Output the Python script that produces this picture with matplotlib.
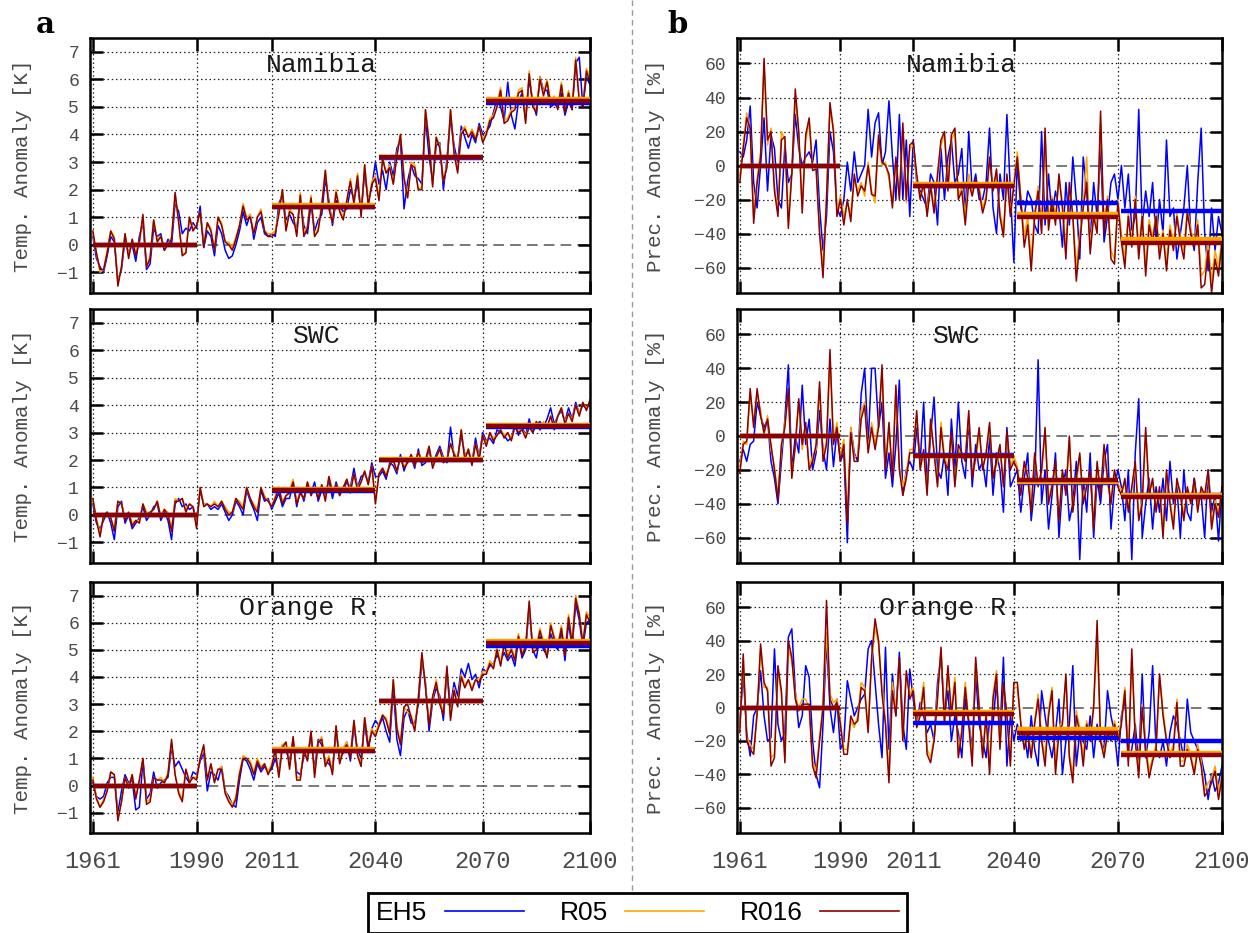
import numpy as np
import matplotlib.pyplot as plt
from matplotlib.lines import Line2D

# ---- data ----
years = np.arange(1961, 2101)
xticks = [1961, 1990, 2011, 2040, 2070, 2100]
periods = [(1961, 1990), (2011, 2040), (2041, 2070), (2071, 2100)]
models = ['EH5', 'R05', 'R016']
colors = ['#0000ff', '#ffa500', '#8b0000']
regions = ['Namibia', 'SWC', 'Orange R.']

# temperature anomaly [K], Namibia
t_nam_eh5 = [0.3,-0.5,-0.8,-1.0,-0.4,0.3,0.1,-1.3,-0.9,0.2,
             -0.3,0.0,-0.6,0.3,0.8,-0.9,-0.7,0.6,0.3,0.4,
             -0.2,0.2,0.0,1.5,1.2,0.4,0.6,0.5,0.8,0.6,
             1.4,-0.1,0.5,0.3,-0.4,0.7,0.4,-0.2,-0.5,-0.4,
             0.0,0.5,1.2,0.7,1.1,0.2,0.8,1.0,0.4,0.3,
             0.4,0.3,1.5,1.8,0.9,1.1,0.8,0.6,1.6,0.7,
             0.4,1.5,0.5,0.9,1.1,2.4,1.6,0.7,1.6,1.4,
             1.2,1.3,2.0,1.7,2.2,1.2,2.6,1.6,2.1,3.0,
             2.2,2.7,2.0,3.0,2.5,3.5,3.8,1.3,2.3,2.9,
             2.5,2.4,2.2,4.6,3.2,2.3,3.6,3.7,2.0,3.1,
             4.6,3.6,3.0,4.3,3.9,3.5,4.0,3.7,4.4,4.0,
             4.1,4.3,4.8,5.3,5.0,4.5,5.9,4.7,4.2,5.2,
             5.5,4.6,6.0,5.2,4.7,6.1,5.6,5.6,5.0,5.1,
             5.0,5.5,4.7,5.2,4.9,6.6,6.8,5.0,6.1,5.8]
t_nam_r05 = [0.4,-0.3,-1.0,-0.9,-0.2,0.5,0.3,-1.4,-0.8,0.4,
             -0.4,0.2,-0.3,0.1,1.0,-0.8,-0.4,0.9,0.2,0.3,
             -0.1,0.0,0.3,1.8,0.8,-0.3,-0.3,1.0,0.6,0.7,
             1.2,0.0,0.8,0.6,-0.2,1.0,0.8,0.1,0.1,-0.1,
             0.3,0.7,1.5,1.0,1.1,0.4,1.0,1.3,0.5,0.4,
             0.4,0.5,1.2,2.0,0.6,1.3,1.1,0.4,1.9,0.4,
             0.7,1.8,0.3,0.6,1.5,2.7,1.4,0.8,2.0,1.3,
             1.0,1.6,2.4,1.5,2.6,1.1,2.9,1.5,2.3,2.5,
             1.7,3.2,2.6,2.9,2.2,3.3,4.0,2.5,1.7,3.0,
             2.9,2.0,2.1,4.9,3.8,2.2,3.9,3.6,2.3,2.9,
             4.9,3.4,2.7,4.1,4.3,3.9,4.2,3.9,4.3,3.8,
             4.1,4.6,4.7,5.1,5.7,4.5,4.6,4.9,5.0,5.6,
             5.7,4.5,6.3,5.1,4.9,6.1,5.5,6.0,5.2,5.4,
             5.0,5.9,4.9,5.6,5.0,6.8,5.3,5.1,6.4,6.1]
t_nam_r016 = [0.5,-0.3,-0.9,-0.9,-0.3,0.5,0.2,-1.5,-0.8,0.4,
              -0.5,0.2,-0.4,0.1,1.1,-0.8,-0.5,0.9,0.1,0.3,
              -0.2,0.0,0.2,1.9,0.8,-0.4,-0.3,1.0,0.5,0.7,
              1.2,-0.1,0.8,0.5,-0.2,1.0,0.7,0.1,0.0,-0.2,
              0.2,0.7,1.4,0.9,1.0,0.4,1.0,1.2,0.5,0.3,
              0.3,0.4,1.1,2.0,0.5,1.2,1.1,0.3,1.8,0.3,
              0.6,1.7,0.3,0.5,1.4,2.7,1.3,0.8,1.9,1.2,
              0.9,1.6,2.3,1.5,2.5,1.0,2.9,1.4,2.2,2.4,
              1.6,3.1,2.6,2.8,2.2,3.2,4.0,2.4,1.7,2.9,
              2.8,2.0,2.0,4.9,3.7,2.1,3.9,3.5,2.3,2.8,
              4.9,3.3,2.6,4.0,4.2,3.9,4.1,3.8,4.3,3.7,
              4.0,4.5,4.6,5.0,5.6,4.4,4.5,4.8,4.9,5.5,
              5.6,4.4,6.2,5.0,4.8,6.0,5.4,5.9,5.1,5.3,
              4.9,5.8,4.8,5.5,4.9,6.7,5.2,5.0,6.3,5.9]

# temperature anomaly [K], SWC
t_swc_eh5 = [0.4,-0.3,-0.5,-0.2,0.1,-0.3,-0.9,0.3,0.5,-0.3,
             0.0,-0.5,-0.3,-0.1,0.3,-0.2,0.0,0.3,0.4,-0.2,
             0.1,-0.2,-0.9,0.4,0.6,0.3,0.4,0.2,0.3,-0.2,
             0.9,0.4,0.4,0.2,0.3,0.2,0.4,0.1,-0.2,0.0,
             0.5,0.3,0.0,0.9,0.5,0.2,-0.2,0.9,0.5,0.6,
             0.2,0.5,0.8,0.3,0.6,0.6,1.2,0.3,0.9,0.5,
             1.1,0.8,1.2,0.5,0.9,0.7,1.3,0.6,1.2,0.8,
             0.9,1.2,1.0,1.7,1.0,1.4,1.5,1.2,1.9,1.4,
             1.4,1.6,1.3,1.9,1.8,1.5,2.2,1.6,2.0,2.1,
             1.7,2.4,1.8,1.9,2.4,1.8,2.2,2.5,2.1,1.9,
             3.2,2.1,2.1,2.9,2.2,2.3,1.9,2.8,2.1,3.0,
             2.7,2.8,2.6,3.1,3.0,2.9,2.7,2.8,3.3,2.9,
             3.2,2.9,3.5,3.0,3.3,3.4,3.2,3.5,3.9,3.3,
             3.6,3.8,3.4,3.9,3.5,4.1,3.7,4.0,3.9,4.0]
t_swc_r05 = [0.5,-0.1,-0.7,0.0,0.1,-0.1,-0.5,0.5,0.4,-0.1,
             0.1,-0.3,-0.2,-0.2,0.4,0.1,0.1,0.2,0.5,0.0,
             0.2,0.1,-0.5,0.6,0.5,0.6,0.2,0.4,0.3,-0.4,
             1.0,0.4,0.4,0.3,0.5,0.3,0.5,0.3,0.1,0.1,
             0.6,0.5,0.3,1.0,0.6,0.4,0.2,1.0,0.7,0.5,
             0.3,0.7,1.0,0.5,0.7,0.9,1.3,0.5,0.8,0.6,
             1.2,0.8,1.0,0.7,1.1,0.6,1.4,0.9,1.1,0.8,
             1.0,1.3,0.9,1.5,1.0,1.2,1.6,1.1,1.8,0.5,
             1.5,1.7,1.5,1.8,2.0,1.6,2.1,1.8,1.9,2.2,
             1.8,2.3,2.0,2.0,2.5,1.8,2.1,2.4,2.0,2.0,
             2.6,2.3,2.0,3.1,2.1,2.4,1.9,2.6,2.1,2.9,
             2.6,3.0,2.8,2.9,3.1,2.9,3.0,2.8,3.2,3.1,
             3.1,2.9,3.2,3.1,3.4,3.1,3.4,3.2,3.6,3.2,
             3.6,3.9,3.4,3.7,3.5,4.0,3.7,4.1,3.9,4.1]
t_swc_r016 = [0.6,-0.2,-0.8,0.0,0.1,-0.1,-0.6,0.5,0.4,-0.2,
              0.1,-0.4,-0.2,-0.3,0.4,0.0,0.1,0.2,0.5,-0.1,
              0.2,0.0,-0.6,0.5,0.5,0.6,0.1,0.4,0.3,-0.5,
              1.0,0.3,0.4,0.3,0.4,0.3,0.5,0.2,0.0,0.1,
              0.6,0.4,0.2,1.0,0.6,0.3,0.1,1.0,0.6,0.5,
              0.3,0.6,1.0,0.4,0.7,0.8,1.2,0.4,0.8,0.6,
              1.2,0.7,1.0,0.6,1.1,0.5,1.4,0.8,1.1,0.7,
              1.0,1.3,0.8,1.5,0.9,1.2,1.6,1.1,1.8,0.4,
              1.5,1.7,1.4,1.8,2.0,1.6,2.1,1.7,1.9,2.2,
              1.8,2.3,1.9,2.0,2.5,1.7,2.1,2.4,1.9,2.0,
              2.6,2.2,2.0,3.1,2.0,2.4,1.8,2.6,2.0,2.9,
              2.5,3.0,2.7,2.9,3.1,2.8,3.0,2.7,3.2,3.0,
              3.1,2.8,3.2,3.0,3.4,3.1,3.3,3.2,3.6,3.1,
              3.6,3.9,3.3,3.7,3.4,4.0,3.6,4.1,3.8,4.2]

# temperature anomaly [K], Orange R.
t_ora_eh5 = [0.1,-0.4,-0.5,-0.4,0.1,0.3,0.3,-1.0,-0.2,0.4,
             0.1,0.2,-0.9,-0.8,0.9,-0.5,-0.3,0.5,-0.1,0.1,
             0.2,0.3,1.4,0.7,0.9,0.6,0.3,0.1,0.5,0.4,
             0.9,1.2,-0.2,0.5,0.4,0.2,0.7,-0.2,-0.4,-0.7,
             -0.8,0.2,1.0,0.9,0.6,0.2,0.8,0.5,0.7,0.5,
             0.6,1.0,0.5,1.5,1.3,0.9,1.7,0.5,0.4,1.1,
             1.1,1.8,0.6,1.7,1.5,0.9,0.8,0.6,2.0,1.0,
             1.2,1.6,0.9,2.2,1.3,1.0,2.3,1.3,2.1,2.4,
             2.2,2.5,2.0,1.6,3.6,1.7,1.1,2.5,2.8,2.3,
             2.3,3.0,4.6,3.8,2.0,3.1,3.6,3.3,2.4,4.2,
             2.9,3.8,3.3,4.3,4.0,4.5,3.9,4.1,3.6,4.3,
             4.2,4.4,4.5,4.8,4.6,4.9,4.6,4.8,4.4,5.4,
             4.7,5.0,6.6,5.0,4.7,5.5,5.0,4.8,5.6,5.2,
             5.0,5.7,4.6,6.0,5.1,6.7,6.1,5.1,6.0,6.1]
t_ora_r05 = [0.3,-0.4,-0.8,-0.5,-0.2,0.5,0.4,-1.2,-0.6,0.3,
             0.0,0.4,-0.4,0.2,1.0,-0.6,-0.5,0.3,0.2,0.3,
             0.1,0.5,1.6,0.4,-0.2,-0.5,0.6,0.2,0.3,0.3,
             1.0,1.4,0.2,0.8,0.2,0.6,0.7,-0.2,-0.5,-0.7,
             -0.4,0.5,1.1,1.0,0.9,0.5,1.0,0.7,0.8,0.5,
             0.8,1.3,0.4,1.5,1.6,0.7,1.8,0.3,0.3,1.4,
             1.0,2.0,0.4,1.6,1.8,0.8,1.1,0.5,2.2,0.9,
             1.4,1.6,1.1,2.4,1.2,0.8,2.5,1.5,2.1,1.9,
             2.3,2.6,2.5,2.0,3.9,2.2,1.6,2.9,2.7,2.6,
             2.1,3.3,4.8,3.7,2.3,3.2,3.9,3.1,2.7,4.3,
             2.5,3.6,3.0,4.1,3.7,3.9,3.6,3.9,3.9,4.2,
             4.2,4.6,4.4,5.1,4.5,5.3,4.8,5.1,4.7,5.6,
             4.9,5.2,6.7,5.0,5.1,5.8,5.3,4.8,6.0,5.5,
             5.2,5.9,4.9,6.3,5.3,7.0,6.4,5.3,6.4,6.2]
t_ora_r016 = [0.2,-0.5,-0.8,-0.6,-0.2,0.5,0.4,-1.3,-0.6,0.3,
              -0.1,0.4,-0.5,0.2,1.0,-0.7,-0.6,0.3,0.2,0.2,
              0.1,0.4,1.7,0.4,-0.3,-0.6,0.6,0.1,0.3,0.2,
              1.0,1.5,0.2,0.8,0.1,0.6,0.6,-0.3,-0.6,-0.8,
              -0.5,0.4,1.0,1.0,0.8,0.4,0.9,0.6,0.8,0.4,
              0.7,1.3,0.3,1.4,1.6,0.6,1.8,0.2,0.2,1.3,
              0.9,2.0,0.3,1.6,1.7,0.7,1.0,0.4,2.2,0.8,
              1.3,1.5,1.0,2.4,1.1,0.7,2.5,1.4,2.0,1.8,
              2.2,2.6,2.4,1.9,3.9,2.1,1.5,2.9,3.0,2.5,
              2.0,3.2,4.9,3.6,2.2,3.3,3.8,3.0,2.6,4.4,
              2.4,3.5,2.9,4.0,3.6,3.9,3.5,3.9,3.8,4.1,
              4.1,4.5,4.3,5.0,4.4,5.2,4.7,5.0,4.6,5.5,
              4.8,5.1,6.8,4.9,5.0,5.7,5.2,4.7,5.9,5.4,
              5.1,5.8,4.8,6.2,5.2,6.9,6.3,5.2,6.3,6.0]

# precipitation anomaly [%], Namibia
p_nam_eh5 = [8,5,15,35,-10,-25,0,28,-15,18,
             10,-20,-25,12,-10,-5,30,10,0,5,
             8,2,15,-25,-50,-30,20,8,-25,-30,
             -20,2,-15,8,-10,-5,0,33,5,25,
             31,0,8,38,5,-20,30,-20,15,-30,
             15,-10,-15,-20,-25,-5,-10,-35,10,-20,
             5,15,-10,-5,10,-30,20,-15,-5,-20,
             -20,-10,22,-25,-40,-5,-20,30,-15,-57,
             2,-25,-30,-15,-20,-35,-40,20,-35,-5,
             -30,-15,-25,-48,-10,-35,5,-20,-55,5,
             -15,-45,-10,-30,10,-45,-30,-10,-5,-20,
             0,-25,-5,-38,-30,33,-35,-15,-30,-10,
             -45,-20,-40,15,-30,-25,-55,-40,-25,0,
             -40,-50,-10,22,-40,-62,-25,-50,-30,-40]
p_nam_r05 = [-6,12,31,20,-30,-8,8,58,12,22,
             -12,-27,20,15,-33,-3,40,18,-25,15,
             25,0,0,-38,-60,-18,33,22,-27,-18,
             -30,-22,-28,-8,-15,-10,-18,2,-15,-22,
             15,0,2,-8,-22,3,-18,22,-22,10,
             12,-8,-18,-12,-27,-10,-25,-8,12,18,
             -12,15,20,-18,-12,-30,-5,-15,-10,-12,
             -25,-18,2,-12,-5,-28,-38,-8,-28,-10,
             8,-18,-42,-30,-55,-28,-12,-38,18,-35,
             -18,-30,-8,-22,-50,-12,-28,-60,-40,-22,
             5,-48,-28,-38,25,-35,-18,-50,-55,-20,
             -40,-55,-28,-45,-18,-50,-28,-60,-32,-42,
             -28,-50,-38,-58,-35,-45,-28,-42,-50,-25,
             -38,-45,-32,-65,-62,-45,-68,-50,-60,-42]
p_nam_r016 = [-10,10,28,22,-34,-10,5,63,15,20,
              -15,-30,15,17,-37,-5,45,20,-28,18,
              28,-3,-2,-40,-66,-20,37,20,-30,-20,
              -35,-20,-33,-5,-18,-12,-15,0,-17,-18,
              18,2,0,-5,-25,5,-20,25,-20,12,
              14,-5,-20,-10,-30,-12,-28,-5,15,20,
              -15,18,22,-20,-15,-35,-10,-18,-8,-15,
              -28,-20,5,-15,-2,-30,-42,-5,-30,-12,
              5,-20,-48,-35,-62,-30,-15,-40,22,-38,
              -20,-35,-5,-25,-55,-10,-30,-68,-45,-25,
              -10,-52,-30,-40,32,-40,-20,-55,-58,-22,
              -45,-60,-30,-48,-20,-55,-30,-65,-35,-45,
              -30,-55,-40,-62,-38,-50,-30,-45,-55,-28,
              -40,-48,-35,-72,-70,-50,-75,-55,-65,-45]

# precipitation anomaly [%], SWC
p_swc_eh5 = [-15,-8,-15,-5,-3,20,12,5,10,-15,
             -25,-40,-15,10,42,-20,0,-10,30,-5,
             10,-20,-10,15,-8,-20,10,-18,3,-15,
             -10,-63,5,-10,-15,25,40,-5,40,40,
             5,20,-25,-10,-30,-5,33,-35,-20,-15,
             -20,5,-15,20,-30,0,23,-20,-25,-10,
             -35,10,-20,20,-15,-25,10,-30,-5,-20,
             -15,-30,0,-35,-10,-20,-45,5,-30,-25,
             -20,-45,-25,-10,-50,-30,45,-40,-20,-55,
             -35,-10,-60,-30,-20,-50,-40,-15,-73,-25,
             -45,-10,-60,-25,-40,-15,-5,-55,-30,-20,
             -30,-50,-20,-73,-10,22,-60,-40,-25,-55,
             -30,-45,-25,-50,-15,-40,-30,-60,-20,-45,
             -50,-25,-40,-35,-60,-20,-45,-35,-62,-30]
p_swc_r05 = [-18,-3,-5,25,8,25,15,0,12,-8,
             -18,-35,-8,8,25,-22,-8,20,-8,5,
             -18,-12,-8,28,-12,-3,45,-2,8,-12,
             -2,-48,5,-12,-12,15,20,-8,8,-5,
             8,38,-18,5,-22,28,-18,-30,-22,-8,
             -8,12,-18,-10,-32,8,-8,-28,8,-12,
             -18,0,-28,-8,-12,-12,12,-22,-15,2,
             -18,-12,5,-22,-18,-8,-28,0,-18,-12,
             -18,-32,-18,-22,-42,-12,-28,-22,2,-38,
             -28,-18,-48,-22,-32,-2,-42,-28,-12,-38,
             -28,-22,-52,-18,-32,-8,-28,-38,-22,-28,
             -32,-28,-42,-32,-18,-48,-38,2,-32,-28,
             -42,-32,-58,-22,-38,-52,-28,-32,-48,-32,
             -38,-28,-42,-32,-38,-22,-52,-38,-45,-32]
p_swc_r016 = [-22,-5,-3,28,5,28,12,2,10,-5,
              -20,-38,-5,5,28,-25,-5,22,-5,8,
              -20,-15,-5,32,-15,-5,51,-5,5,-15,
              -5,-52,2,-15,-15,10,18,-10,5,-8,
              5,42,-20,8,-25,30,-20,-35,-25,-10,
              -10,15,-20,-8,-35,10,-10,-30,5,-15,
              -20,2,-30,-5,-10,-15,15,-25,-12,5,
              -20,-10,8,-25,-15,-5,-30,3,-20,-15,
              -20,-35,-15,-25,-45,-10,-30,-20,5,-40,
              -30,-15,-50,-20,-35,0,-45,-25,-10,-40,
              -30,-20,-55,-15,-35,-5,-25,-40,-20,-30,
              -35,-25,-45,-30,-15,-50,-40,5,-35,-25,
              -45,-30,-60,-20,-40,-55,-25,-35,-50,-30,
              -40,-25,-45,-30,-35,-20,-55,-40,-48,-30]

# precipitation anomaly [%], Orange R.
p_ora_eh5 = [-10,20,-15,-29,-5,0,22,-5,-20,-18,
             35,-10,-20,-15,42,47,10,-12,-5,25,
             18,-20,-40,-48,-10,40,0,-15,5,-25,
             -20,16,5,-5,0,5,8,35,40,15,
             -10,-30,36,-25,20,-5,33,-10,-25,23,
             5,-10,3,-5,-15,-10,-20,15,30,-5,
             10,-20,-5,-15,-30,5,-8,-25,20,-10,
             -20,-30,-8,-10,15,-15,30,-35,-5,-20,
             -10,-20,-15,-30,-5,-25,-35,10,-5,-20,
             -30,-15,5,-40,-20,-10,25,-35,-15,-20,
             -25,-5,-30,-10,-20,-25,10,-5,-15,-35,
             -5,5,-30,-25,-10,-35,20,-30,-15,25,
             -25,-30,-20,-35,-15,-5,-10,-20,-30,5,
             -15,-20,-25,-30,-40,-55,-40,-50,-45,-35]
p_ora_r05 = [-12,28,-18,-22,-25,-5,35,12,12,-30,
             -28,22,8,-30,35,28,8,0,5,5,
             0,-32,-38,-18,2,45,8,3,5,-8,
             -25,-25,-8,-12,-5,15,12,-12,28,48,
             38,12,-8,-40,15,-2,28,-18,20,8,
             12,-10,-2,15,-25,-30,-18,8,35,-8,
             22,-2,18,-28,-12,15,-8,-30,28,2,
             -28,-2,-35,8,22,-22,12,-2,-32,12,
             12,-8,-22,-12,-28,-8,8,-18,-30,-2,
             12,-35,-12,-8,18,-28,-40,-2,-12,-30,
             -8,-18,2,40,-18,-28,-12,-18,-8,-18,
             -8,12,-32,30,-18,-38,2,-22,-38,-30,
             -22,18,-2,-18,-28,-22,5,-32,-32,-22,
             -28,-38,-22,-32,-50,-45,-42,-35,-50,-40]
p_ora_r016 = [-15,32,-20,-25,-28,-3,38,15,10,-35,
              -30,25,10,-33,40,30,5,-2,2,2,
              2,-35,-42,-20,0,64,5,0,3,-10,
              -28,-28,-5,-10,-8,12,10,-15,30,53,
              40,8,-10,-45,10,-5,30,-20,22,5,
              10,-12,-5,12,-28,-33,-20,5,36,-10,
              25,-5,15,-30,-15,12,-10,-35,30,0,
              -30,-5,-40,5,20,-25,15,-5,-35,15,
              15,-10,-25,-15,-30,-10,5,-20,-35,-5,
              10,-40,-15,-10,20,-30,-45,-5,-15,-35,
              -10,-20,0,52,-20,-30,-15,-20,-10,-20,
              -10,10,-35,35,-20,-42,0,-25,-42,-32,
              -25,20,-5,-20,-30,-25,3,-35,-35,-25,
              -30,-40,-25,-35,-53,-50,-45,-38,-55,-42]

# 30-year period means (EH5, R05, R016)
t_nam_means = [[0, 1.38, 3.15, 5.15], [0, 1.45, 3.19, 5.28], [0, 1.38, 3.17, 5.22]]
t_swc_means = [[0, 0.88, 2.0, 3.22], [0, 0.93, 2.03, 3.27], [0, 0.9, 2.0, 3.25]]
t_ora_means = [[0, 1.28, 3.1, 5.15], [0, 1.33, 3.13, 5.32], [0, 1.28, 3.1, 5.25]]
p_nam_means = [[0, -12, -22, -27], [0, -11, -28.4, -43], [0, -11.9, -30.4, -45.8]]
p_swc_means = [[0, -11, -28, -35], [0, -12, -27, -35], [0, -12, -26, -36]]
p_ora_means = [[0, -9.2, -18, -20], [0, -2.7, -13, -27.2], [0, -3.6, -15.2, -28.4]]

temp = [[t_nam_eh5, t_nam_r05, t_nam_r016],
        [t_swc_eh5, t_swc_r05, t_swc_r016],
        [t_ora_eh5, t_ora_r05, t_ora_r016]]
prec = [[p_nam_eh5, p_nam_r05, p_nam_r016],
        [p_swc_eh5, p_swc_r05, p_swc_r016],
        [p_ora_eh5, p_ora_r05, p_ora_r016]]
temp_means = [t_nam_means, t_swc_means, t_ora_means]
prec_means = [p_nam_means, p_swc_means, p_ora_means]

# ---- figure ----
plt.rcParams['font.family'] = ['Liberation Mono', 'DejaVu Sans Mono']
W, H = 1252, 933
fig = plt.figure(figsize=(W / 100, H / 100), dpi=100)

rows = [(38, 293), (309, 563), (582, 833)]
cols = [(90, 590), (737, 1222)]
title_x = [2025, 2023.5, 2021.8]
grey = '#4a4a4a'


def make_axes(col, row):
    x0, x1 = cols[col]
    y0, y1 = rows[row]
    return fig.add_axes([x0 / W, (H - y1) / H, (x1 - x0) / W, (y1 - y0) / H])


def draw_panel(ax, series, means, yticks, ylim, ylabel, title, tx, bottom, labx):
    ax.set_xlim(1960.2, 2100)
    ax.set_ylim(*ylim)
    for xv in xticks:
        ax.axvline(xv, color='#222222', lw=0.9, ls=(0, (1.2, 2.2)), zorder=1)
    for yv in yticks:
        if yv == 0:
            ax.axhline(0, color='#555555', lw=1.1, ls=(0, (7, 4)), zorder=1)
        else:
            ax.axhline(yv, color='#222222', lw=0.9, ls=(0, (1.2, 2.2)), zorder=1)
    for vals, c in zip(series, colors):
        ax.plot(years, vals, color=c, lw=1.1, zorder=2)
    for m, c in zip(means, colors):
        for (a, b), v in zip(periods, m):
            ax.plot([a, b], [v, v], color=c, lw=3.2, solid_capstyle='butt', zorder=3)
    ax.set_xticks(xticks)
    ax.set_yticks(yticks)
    ax.tick_params(direction='in', length=9, width=1.8, top=True, right=True,
                   colors='black', labelcolor=grey)
    ax.tick_params(axis='y', labelsize=13, pad=8)
    ax.tick_params(axis='x', labelsize=17, pad=12, labelbottom=bottom)
    for s in ax.spines.values():
        s.set_linewidth(1.8)
    ax.set_ylabel(ylabel, fontsize=15, color=grey)
    ax.yaxis.set_label_coords(labx, 0.5)
    ax.text(tx, 0.895, title, transform=ax.get_xaxis_transform(),
            ha='center', va='center', fontsize=19, color='#1a1a1a', zorder=4)


for r in range(3):
    axl = make_axes(0, r)
    draw_panel(axl, temp[r], temp_means[r], list(range(-1, 8)), (-1.75, 7.5),
               'Temp. Anomaly [K]', regions[r], title_x[r], r == 2, -0.115)
    axr = make_axes(1, r)
    draw_panel(axr, prec[r], prec_means[r], list(range(-60, 61, 20)), (-75, 75),
               'Prec. Anomaly [%]', regions[r], title_x[r], r == 2, -0.148)

# panel letters
fig.text(45.5 / W, 1 - 33 / H, 'a', fontfamily='DejaVu Serif', fontweight='bold',
         fontsize=21, ha='center', va='baseline')
fig.text(677.5 / W, 1 - 33 / H, 'b', fontfamily='DejaVu Serif', fontweight='bold',
         fontsize=21, ha='center', va='baseline')

# separator between the two columns
fig.add_artist(Line2D([632 / W, 632 / W], [1, 40 / H], transform=fig.transFigure,
                      color='#999999', lw=1, ls=(0, (4, 3))))

handles = [Line2D([], [], color=c, lw=1.2) for c in colors]
leg = fig.legend(handles, models, loc='upper center', bbox_to_anchor=(637.5 / W, 40 / H),
                 ncol=3, markerfirst=False, fancybox=False, edgecolor='black',
                 framealpha=1, prop={'family': 'Liberation Sans', 'size': 19},
                 handlelength=3.0, handletextpad=0.65, columnspacing=1.35,
                 borderpad=0.3, borderaxespad=0)
leg.get_frame().set_linewidth(2)

fig.savefig('out.png', dpi=100)
